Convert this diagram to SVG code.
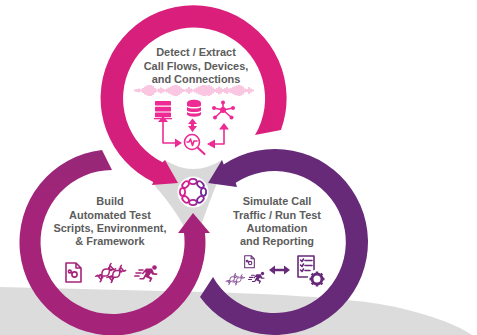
<svg xmlns="http://www.w3.org/2000/svg" width="477" height="335" viewBox="0 0 477 335">
<style>
text{font-family:"Liberation Sans",Arial,sans-serif;font-size:10.95px;font-weight:700;fill:#5c5c5c;text-anchor:middle}
.ln{fill:none;stroke:currentColor;stroke-width:1.6;stroke-linecap:round;stroke-linejoin:round}
.hx{fill:none;stroke:currentColor;stroke-width:1.500;stroke-linecap:round}
.fl{fill:currentColor}
.pink{color:#ee2a94}
.mag{color:#a6237a}
.pur{color:#662a78}
</style>
<defs>
<linearGradient id="gp" gradientUnits="userSpaceOnUse" x1="100" y1="150" x2="280" y2="60"><stop offset="0" stop-color="#d41f7c"/><stop offset="1" stop-color="#dc1f7b"/></linearGradient>
<linearGradient id="gl" gradientUnits="userSpaceOnUse" x1="110" y1="150" x2="110" y2="335"><stop offset="0" stop-color="#962878"/><stop offset=".4" stop-color="#a6237a"/><stop offset="1" stop-color="#a6237a"/></linearGradient>
<linearGradient id="gc" gradientUnits="userSpaceOnUse" x1="181" y1="192" x2="205" y2="192"><stop offset="0" stop-color="#ec1c8c"/><stop offset="1" stop-color="#6a2a9c"/></linearGradient>
<g id="helix"><path class="hx" d="M0,-3.500C4,-3.500 6,3.500 10,3.500S16,-3.500 20,-3.500M0,3.500C4,3.500 6,-3.500 10,-3.500S16,3.500 20,3.500M2,-3V3M4.500,-2V2M15.500,-2V2M18,-3V3"/></g>
<symbol id="doc" viewBox="0 0 17 21" overflow="visible">
<path class="ln" d="M1,1H11L16,6V20H1Z M11,1V6H16"/>
<circle class="ln" cx="9.500" cy="12.500" r="2.600"/><circle class="ln" cx="4.800" cy="9.500" r="1.400"/><path class="ln" d="M6,10.300L7.400,11.300"/>
</symbol>
<symbol id="dna" viewBox="0 0 30 20" overflow="visible">
<use href="#helix" transform="translate(2,16) rotate(-40)"/>
<use href="#helix" transform="translate(13,17) rotate(-40) scale(.95)"/>
</symbol>
<symbol id="run" viewBox="0 0 24 17" overflow="visible">
<circle class="fl" cx="20.500" cy="2.500" r="2.300"/>
<path class="fl" d="M12,3.500L18,3.500L20,8L23.500,8.500L23,10L18.500,9.800L17,8L15,11L18.500,13L16.500,17L15,16.500L16,14L11.500,12L10,14.500L5.500,14.500L5.500,13L9,13L12,7.500L10.500,7.500L9,9.500L7.800,8.500Z"/>
<path class="ln" stroke-width="1.200" d="M5,5H9 M2,8H7 M0.800,11H5"/>
</symbol>
</defs>
<path id="ground" fill="#dcdcdc" d="M0,287L205,292Q350,296 400,308Q450,320 472,335L0,335Z"/>
<g id="connectors">
<path id="tri" fill="#d9d9d9" d="M165,160Q193,178 222,160L236,187L217,183Q210,200 200,228L185,228Q172,205 155,186Z"/>
<path id="arrow-detect" fill="url(#gp)" d="M281,130A93,93 0 1 0 153.200,182L152,185L178,183L165,160L162.600,162.200A71,71 0 1 1 255,135Z"/>
<path id="arrow-simulate" fill="#662a78" d="M235.700,182.800L237,187L208,183L222,160L223.600,164.500A93,93 0 1 1 200,297L213,277A71,71 0 1 0 235.700,182.800Z"/>
<path id="arrow-build" fill="url(#gl)" d="M102,150A93,93 0 1 0 205,233L210,233L193,213L178,233L184,233A72,72 0 1 1 112,170Z"/>
</g>
<g id="node-center">
<circle cx="193" cy="192" r="15.500" fill="#fff"/>
<g fill="none" stroke="url(#gc)" stroke-width="1.800">
<ellipse cx="193" cy="181.500" rx="3.800" ry="2.600"/>
<ellipse cx="200.400" cy="184.600" rx="3.800" ry="2.600" transform="rotate(45 200.400 184.600)"/>
<ellipse cx="203.500" cy="192" rx="3.800" ry="2.600" transform="rotate(90 203.500 192)"/>
<ellipse cx="200.400" cy="199.400" rx="3.800" ry="2.600" transform="rotate(135 200.400 199.400)"/>
<ellipse cx="193" cy="202.500" rx="3.800" ry="2.600"/>
<ellipse cx="185.600" cy="199.400" rx="3.800" ry="2.600" transform="rotate(45 185.600 199.400)"/>
<ellipse cx="182.500" cy="192" rx="3.800" ry="2.600" transform="rotate(90 182.500 192)"/>
<ellipse cx="185.600" cy="184.600" rx="3.800" ry="2.600" transform="rotate(135 185.600 184.600)"/>
</g>
</g>
<g id="node-detect" class="pink">
<text x="196" y="56">Detect / Extract</text>
<text x="196" y="69.500">Call Flows, Devices,</text>
<text x="196" y="83">and Connections</text>
<path d="M135,89.500v2M137,89v3M139,88.500v4M141,89.500v2M143,88v5M145,86.500v8M147,85.500v10M149,85v11M151,85v11M153,86v9M155,88v5M157,89.500v2M159,88.500v4M161,87.500v6M163,88.500v4M165,89.500v2M167,88.500v4M169,87.500v6M171,86.500v8M173,85.500v10M175,85v11M177,85v11M179,86v9M181,87.500v6M183,89v3M185,89.500v2M187,88.500v4M189,87v7M191,88.500v4M193,89.500v2M195,88.500v4M197,87.500v6M199,86.500v8M201,86v9M203,85v11M205,85v11M207,85.500v10M209,85v11M211,86v9M213,87.500v6M215,89v3M217,88v5M219,86.500v8M221,87.500v6M223,89v3M225,88v5M227,87v7M229,88.500v4M231,88v5M233,87v7M235,86v9M237,85.500v10M239,85v11M241,85.500v10M243,86.500v8M245,88.500v4M247,89v3M249,87v7M251,88.500v4M253,89.500v2" fill="none" stroke="#f272b4" stroke-width=".8"/>
<g class="fl">
<rect x="155" y="101" width="16" height="4.600" rx=".6"/><rect x="155" y="106.800" width="16" height="4.600" rx=".6"/><rect x="155" y="112.600" width="16" height="4.600" rx=".6"/>
<rect x="154" y="118" width="18" height="1.300"/>
<path d="M187,103C187,98.500 201,98.500 201,103V105.500C201,107.500 187,107.500 187,105.500Z M187,107C189,109 199,109 201,107V110.500C199,112.500 189,112.500 187,110.500Z M187,112C189,114 199,114 201,112V114.500C199,117.500 189,117.500 187,114.500Z"/>
<path d="M192.500,118.500L197,124H194V126H197L192.500,132L188,126H191V124H188Z"/>
<path d="M163,116L168,122H158Z M182,143L175,138.500V147.500Z M224,123L229,129.500H219Z M207,144L215,139.500V148.500Z"/>
<circle cx="223" cy="110" r="3"/><circle cx="223" cy="102.500" r="2"/><circle cx="233" cy="108" r="2"/><circle cx="231.500" cy="117.500" r="2"/><circle cx="215" cy="117.500" r="2"/><circle cx="214" cy="108" r="2"/>
</g>
<path class="ln" d="M223,110V102.500M223,110L233,108M223,110L231.500,117.500M223,110L215,117.500M223,110L214,108"/>
<path class="ln" d="M163,122V143H176M224,129V144H214"/>
<circle class="ln" cx="192" cy="142" r="7.500"/>
<path class="ln" stroke-width="1.100" d="M187,142H189L190.500,139L192.500,145.500L194,141H197"/>
<path d="M198,148L204.500,154" fill="none" stroke="currentColor" stroke-width="2.200" stroke-linecap="round"/>
</g>
<g id="node-build" class="mag">
<text x="110" y="205">Build</text>
<text x="110" y="218.500">Automated  Test</text>
<text x="110" y="232">Scripts, Environment,</text>
<text x="110" y="245">&amp; Framework</text>
<use href="#doc" x="65" y="262" width="17" height="21"/>
<use href="#dna" x="96" y="263" width="30" height="20"/>
<use href="#run" x="134" y="265" width="24" height="17"/>
</g>
<g id="node-simulate" class="pur">
<text x="277" y="205">Simulate  Call</text>
<text x="277" y="218.500">Traffic  / Run Test</text>
<text x="277" y="232">Automation</text>
<text x="277" y="245">and Reporting</text>
<use href="#doc" x="244" y="255" width="11" height="13.500"/>
<use href="#dna" x="226" y="273" width="19" height="12.500" style="color:#8f5a9c"/>
<use href="#run" x="248" y="271" width="17" height="13.500"/>
<path class="fl" d="M269,270L275,265.500V268.800H284V265.500L290,270L284,274.500V271.200H275V274.500Z"/>
<path class="ln" stroke-width="1.500" d="M298,256H314V277H298Z"/>
<path class="ln" stroke-width="1" d="M300.500,260L302,261.500L303.500,259M305,260.500H312M300.500,265L302,266.500L303.500,264M305,265.500H312M300.500,270L302,271.500L303.500,269M305,270.500H310"/>
<circle cx="317" cy="279" r="9.500" fill="#fff"/>
<circle cx="317" cy="279" r="5" fill="none" stroke="currentColor" stroke-width="3"/>
<path d="M317,271.500V286.500M309.500,279H324.500M311.700,273.700L322.300,284.300M322.300,273.700L311.700,284.300" fill="none" stroke="currentColor" stroke-width="2.400" stroke-dasharray="2.400 10.200"/>
</g>
</svg>
